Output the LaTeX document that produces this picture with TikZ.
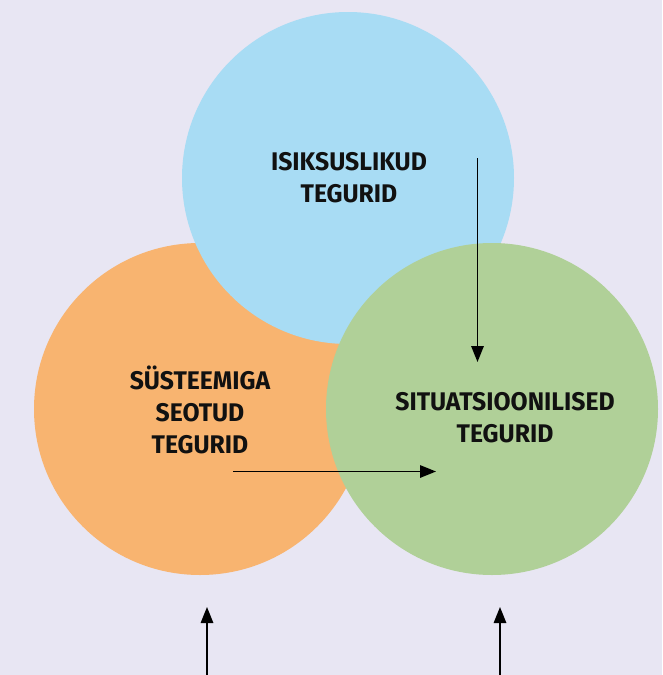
\documentclass[tikz,border=0pt]{standalone}
\usepackage{fontspec}
\setmainfont{Fira Sans}[FakeStretch=0.97]
\usetikzlibrary{arrows.meta}
\definecolor{bgc}{RGB}{232,230,243}
\definecolor{bluec}{RGB}{168,220,244}
\definecolor{orangec}{RGB}{248,180,112}
\definecolor{greenc}{RGB}{176,208,152}
\definecolor{txt}{RGB}{17,17,17}
\tikzset{
  disc/.style={circle, minimum size=332pt, inner sep=0pt, draw=none},
  label/.style={align=center, font=\fontsize{25.5}{32}\selectfont\bfseries, text=txt, inner sep=0pt},
  conn/.style={line width=1.5pt, draw=black, -{Triangle[length=16pt,width=12.5pt]}}
}
\begin{document}
\begin{tikzpicture}[x=1pt,y=-1pt]
\fill[bgc] (0,0) rectangle (662,675);
\useasboundingbox (0,0) rectangle (662,675);
\node[disc, fill=orangec] (orange) at (200,409) {};
\node[disc, fill=bluec] (blue) at (348,178) {};
\node[disc, fill=greenc] (green) at (492,409) {};
\node[label] (tb) at (349,178) {ISIKSUSLIKUD\\TEGURID};
\node[label] (to) at (200,410) {SÜSTEEMIGA\\SEOTUD\\TEGURID};
\node[label] (tg) at (505,418) {SITUATSIOONILISED\\TEGURID};
\coordinate (v1) at (477.5,158);
\coordinate (v2) at (477.5,362);
\coordinate (h1) at (233,471.5);
\coordinate (h2) at (436,471.5);
\coordinate (b1s) at (207,675);
\coordinate (b1e) at (207,607);
\coordinate (b2s) at (500,675);
\coordinate (b2e) at (500,607);
\draw[conn] (v1) -- (v2);
\draw[conn] (h1) -- (h2);
\draw[conn] (b1s) -- (b1e);
\draw[conn] (b2s) -- (b2e);
\end{tikzpicture}
\end{document}
